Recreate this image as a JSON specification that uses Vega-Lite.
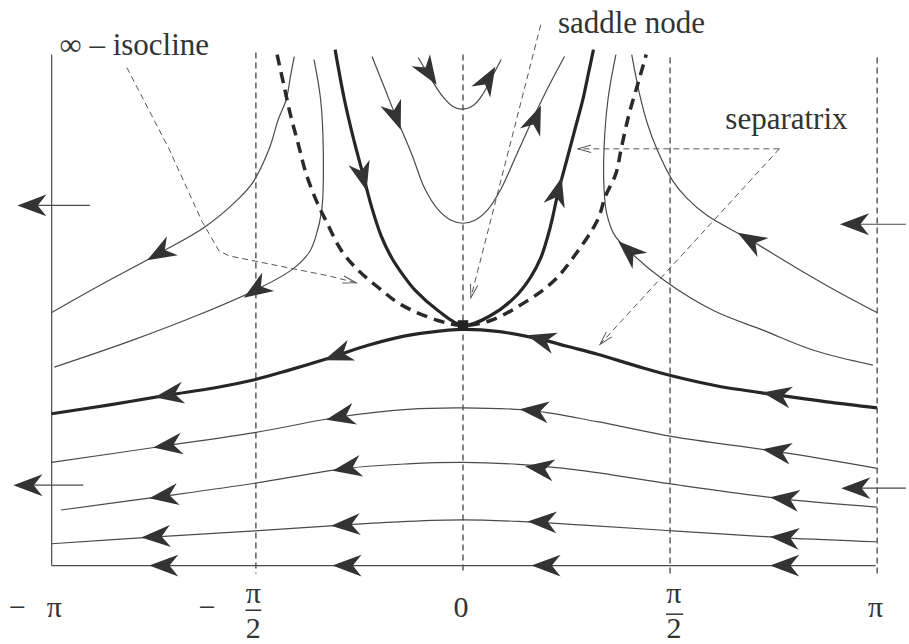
{
  "$schema": "https://vega.github.io/schema/vega-lite/v6.json",
  "width": 909,
  "height": 644,
  "padding": 0,
  "autosize": {"type": "fit", "contains": "padding"},
  "background": "white",
  "config": {"view": {"stroke": null}},
  "datasets": {
    "curves": [
      {"c":"bottom","k":"traj","o":1,"x":-3.12,"y":0},{"c":"bottom","k":"traj","o":2,"x":3.13,"y":0},
      {"c":"A","k":"traj","o":1,"x":-3.12,"y":0.22},{"c":"A","k":"traj","o":2,"x":-2.33,"y":0.29},{"c":"A","k":"traj","o":3,"x":-1.58,"y":0.35},{"c":"A","k":"traj","o":4,"x":-0.89,"y":0.41},{"c":"A","k":"traj","o":5,"x":-0.42,"y":0.445},{"c":"A","k":"traj","o":6,"x":0,"y":0.46},{"c":"A","k":"traj","o":7,"x":0.42,"y":0.445},{"c":"A","k":"traj","o":8,"x":0.89,"y":0.41},{"c":"A","k":"traj","o":9,"x":1.59,"y":0.35},{"c":"A","k":"traj","o":10,"x":2.44,"y":0.28},{"c":"A","k":"traj","o":11,"x":3.14,"y":0.24},
      {"c":"B","k":"traj","o":1,"x":-3.05,"y":0.56},{"c":"B","k":"traj","o":2,"x":-2.27,"y":0.70},{"c":"B","k":"traj","o":3,"x":-1.58,"y":0.83},{"c":"B","k":"traj","o":4,"x":-0.88,"y":0.98},{"c":"B","k":"traj","o":5,"x":-0.42,"y":1.025},{"c":"B","k":"traj","o":6,"x":0,"y":1.04},{"c":"B","k":"traj","o":7,"x":0.42,"y":1.02},{"c":"B","k":"traj","o":8,"x":0.89,"y":0.96},{"c":"B","k":"traj","o":9,"x":1.59,"y":0.82},{"c":"B","k":"traj","o":10,"x":2.44,"y":0.67},{"c":"B","k":"traj","o":11,"x":3.14,"y":0.59},
      {"c":"C","k":"traj","o":1,"x":-3.12,"y":1.04},{"c":"C","k":"traj","o":2,"x":-2.24,"y":1.21},{"c":"C","k":"traj","o":3,"x":-1.58,"y":1.34},{"c":"C","k":"traj","o":4,"x":-0.93,"y":1.50},{"c":"C","k":"traj","o":5,"x":-0.42,"y":1.575},{"c":"C","k":"traj","o":6,"x":0,"y":1.59},{"c":"C","k":"traj","o":7,"x":0.54,"y":1.56},{"c":"C","k":"traj","o":8,"x":1.02,"y":1.45},{"c":"C","k":"traj","o":9,"x":1.59,"y":1.30},{"c":"C","k":"traj","o":10,"x":2.38,"y":1.15},{"c":"C","k":"traj","o":11,"x":3.14,"y":0.98},
      {"c":"U","k":"traj","o":1,"x":-0.69,"y":5.13},{"c":"U","k":"traj","o":2,"x":-0.60,"y":4.83},{"c":"U","k":"traj","o":3,"x":-0.51,"y":4.53},{"c":"U","k":"traj","o":4,"x":-0.39,"y":4.15},{"c":"U","k":"traj","o":5,"x":-0.29,"y":3.80},{"c":"U","k":"traj","o":6,"x":-0.19,"y":3.59},{"c":"U","k":"traj","o":7,"x":-0.09,"y":3.48},{"c":"U","k":"traj","o":8,"x":0,"y":3.45},{"c":"U","k":"traj","o":9,"x":0.09,"y":3.48},{"c":"U","k":"traj","o":10,"x":0.19,"y":3.59},{"c":"U","k":"traj","o":11,"x":0.29,"y":3.80},{"c":"U","k":"traj","o":12,"x":0.41,"y":4.15},{"c":"U","k":"traj","o":13,"x":0.54,"y":4.53},{"c":"U","k":"traj","o":14,"x":0.65,"y":4.83},{"c":"U","k":"traj","o":15,"x":0.77,"y":5.13},
      {"c":"S","k":"traj","o":1,"x":-0.34,"y":5.12},{"c":"S","k":"traj","o":2,"x":-0.25,"y":4.92},{"c":"S","k":"traj","o":3,"x":-0.15,"y":4.72},{"c":"S","k":"traj","o":4,"x":-0.08,"y":4.63},{"c":"S","k":"traj","o":5,"x":-0.01,"y":4.60},{"c":"S","k":"traj","o":6,"x":0.08,"y":4.64},{"c":"S","k":"traj","o":7,"x":0.15,"y":4.75},{"c":"S","k":"traj","o":8,"x":0.21,"y":4.90},{"c":"S","k":"traj","o":9,"x":0.29,"y":5.10},
      {"c":"L1","k":"traj","o":1,"x":-3.12,"y":2.55},{"c":"L1","k":"traj","o":2,"x":-2.76,"y":2.82},{"c":"L1","k":"traj","o":3,"x":-2.30,"y":3.15},{"c":"L1","k":"traj","o":4,"x":-1.95,"y":3.42},{"c":"L1","k":"traj","o":5,"x":-1.70,"y":3.70},{"c":"L1","k":"traj","o":6,"x":-1.59,"y":3.87},{"c":"L1","k":"traj","o":7,"x":-1.47,"y":4.20},{"c":"L1","k":"traj","o":8,"x":-1.40,"y":4.50},{"c":"L1","k":"traj","o":9,"x":-1.34,"y":4.70},{"c":"L1","k":"traj","o":10,"x":-1.31,"y":4.92},{"c":"L1","k":"traj","o":11,"x":-1.28,"y":5.13},
      {"c":"L2","k":"traj","o":1,"x":-3.10,"y":2.00},{"c":"L2","k":"traj","o":2,"x":-2.51,"y":2.27},{"c":"L2","k":"traj","o":3,"x":-2.00,"y":2.53},{"c":"L2","k":"traj","o":4,"x":-1.57,"y":2.78},{"c":"L2","k":"traj","o":5,"x":-1.30,"y":2.98},{"c":"L2","k":"traj","o":6,"x":-1.17,"y":3.15},{"c":"L2","k":"traj","o":7,"x":-1.12,"y":3.30},{"c":"L2","k":"traj","o":8,"x":-1.07,"y":3.60},{"c":"L2","k":"traj","o":9,"x":-1.06,"y":4.20},{"c":"L2","k":"traj","o":10,"x":-1.08,"y":4.70},{"c":"L2","k":"traj","o":11,"x":-1.13,"y":5.10},
      {"c":"R1","k":"traj","o":1,"x":3.14,"y":2.55},{"c":"R1","k":"traj","o":2,"x":2.83,"y":2.77},{"c":"R1","k":"traj","o":3,"x":2.53,"y":3.00},{"c":"R1","k":"traj","o":4,"x":2.18,"y":3.28},{"c":"R1","k":"traj","o":5,"x":1.85,"y":3.53},{"c":"R1","k":"traj","o":6,"x":1.70,"y":3.70},{"c":"R1","k":"traj","o":7,"x":1.59,"y":3.88},{"c":"R1","k":"traj","o":8,"x":1.47,"y":4.20},{"c":"R1","k":"traj","o":9,"x":1.40,"y":4.45},{"c":"R1","k":"traj","o":10,"x":1.34,"y":4.75},{"c":"R1","k":"traj","o":11,"x":1.28,"y":5.15},
      {"c":"R2","k":"traj","o":1,"x":3.11,"y":2.02},{"c":"R2","k":"traj","o":2,"x":2.66,"y":2.17},{"c":"R2","k":"traj","o":3,"x":2.28,"y":2.37},{"c":"R2","k":"traj","o":4,"x":1.90,"y":2.57},{"c":"R2","k":"traj","o":5,"x":1.53,"y":2.87},{"c":"R2","k":"traj","o":6,"x":1.26,"y":3.17},{"c":"R2","k":"traj","o":7,"x":1.15,"y":3.33},{"c":"R2","k":"traj","o":8,"x":1.09,"y":3.55},{"c":"R2","k":"traj","o":9,"x":1.07,"y":3.80},{"c":"R2","k":"traj","o":10,"x":1.07,"y":4.20},{"c":"R2","k":"traj","o":11,"x":1.10,"y":4.70},{"c":"R2","k":"traj","o":12,"x":1.16,"y":5.15},
      {"c":"axis","k":"traj","o":1,"x":-3.12,"y":5.15},{"c":"axis","k":"traj","o":2,"x":-3.12,"y":0},
      {"c":"s1","k":"traj","o":1,"x":-2.83,"y":3.63},{"c":"s1","k":"traj","o":2,"x":-3.30,"y":3.63},
      {"c":"s2","k":"traj","o":1,"x":-2.88,"y":0.81},{"c":"s2","k":"traj","o":2,"x":-3.35,"y":0.81},
      {"c":"s3","k":"traj","o":1,"x":3.36,"y":3.44},{"c":"s3","k":"traj","o":2,"x":2.95,"y":3.44},
      {"c":"s4","k":"traj","o":1,"x":3.36,"y":0.78},{"c":"s4","k":"traj","o":2,"x":2.95,"y":0.78},
      {"c":"sep","k":"sep","o":1,"x":-3.12,"y":1.53},{"c":"sep","k":"sep","o":2,"x":-2.68,"y":1.62},{"c":"sep","k":"sep","o":3,"x":-2.23,"y":1.72},{"c":"sep","k":"sep","o":4,"x":-1.89,"y":1.79},{"c":"sep","k":"sep","o":5,"x":-1.59,"y":1.87},{"c":"sep","k":"sep","o":6,"x":-1.32,"y":1.97},{"c":"sep","k":"sep","o":7,"x":-1.02,"y":2.09},{"c":"sep","k":"sep","o":8,"x":-0.72,"y":2.22},{"c":"sep","k":"sep","o":9,"x":-0.49,"y":2.30},{"c":"sep","k":"sep","o":10,"x":-0.26,"y":2.35},{"c":"sep","k":"sep","o":11,"x":0,"y":2.38},{"c":"sep","k":"sep","o":12,"x":0.26,"y":2.36},{"c":"sep","k":"sep","o":13,"x":0.59,"y":2.28},{"c":"sep","k":"sep","o":14,"x":0.79,"y":2.21},{"c":"sep","k":"sep","o":15,"x":1.02,"y":2.13},{"c":"sep","k":"sep","o":16,"x":1.32,"y":2.01},{"c":"sep","k":"sep","o":17,"x":1.59,"y":1.91},{"c":"sep","k":"sep","o":18,"x":1.93,"y":1.81},{"c":"sep","k":"sep","o":19,"x":2.38,"y":1.72},{"c":"sep","k":"sep","o":20,"x":2.76,"y":1.65},{"c":"sep","k":"sep","o":21,"x":3.14,"y":1.59},
      {"c":"par","k":"sep","o":1,"x":-0.97,"y":5.20},{"c":"par","k":"sep","o":2,"x":-0.90,"y":4.70},{"c":"par","k":"sep","o":3,"x":-0.83,"y":4.30},{"c":"par","k":"sep","o":4,"x":-0.76,"y":3.95},{"c":"par","k":"sep","o":5,"x":-0.69,"y":3.60},{"c":"par","k":"sep","o":6,"x":-0.62,"y":3.32},{"c":"par","k":"sep","o":7,"x":-0.54,"y":3.10},{"c":"par","k":"sep","o":8,"x":-0.45,"y":2.92},{"c":"par","k":"sep","o":9,"x":-0.36,"y":2.77},{"c":"par","k":"sep","o":10,"x":-0.19,"y":2.57},{"c":"par","k":"sep","o":11,"x":0,"y":2.42},{"c":"par","k":"sep","o":12,"x":0.21,"y":2.52},{"c":"par","k":"sep","o":13,"x":0.39,"y":2.70},{"c":"par","k":"sep","o":14,"x":0.51,"y":2.90},{"c":"par","k":"sep","o":15,"x":0.59,"y":3.10},{"c":"par","k":"sep","o":16,"x":0.66,"y":3.40},{"c":"par","k":"sep","o":17,"x":0.72,"y":3.75},{"c":"par","k":"sep","o":18,"x":0.79,"y":4.10},{"c":"par","k":"sep","o":19,"x":0.85,"y":4.40},{"c":"par","k":"sep","o":20,"x":0.91,"y":4.70},{"c":"par","k":"sep","o":21,"x":0.95,"y":4.95},{"c":"par","k":"sep","o":22,"x":0.99,"y":5.20},
      {"c":"iso","k":"iso","o":1,"x":-1.41,"y":5.15},{"c":"iso","k":"iso","o":2,"x":-1.36,"y":4.85},{"c":"iso","k":"iso","o":3,"x":-1.31,"y":4.55},{"c":"iso","k":"iso","o":4,"x":-1.25,"y":4.25},{"c":"iso","k":"iso","o":5,"x":-1.19,"y":3.95},{"c":"iso","k":"iso","o":6,"x":-1.11,"y":3.67},{"c":"iso","k":"iso","o":7,"x":-1.03,"y":3.45},{"c":"iso","k":"iso","o":8,"x":-0.92,"y":3.17},{"c":"iso","k":"iso","o":9,"x":-0.79,"y":2.97},{"c":"iso","k":"iso","o":10,"x":-0.64,"y":2.80},{"c":"iso","k":"iso","o":11,"x":-0.47,"y":2.63},{"c":"iso","k":"iso","o":12,"x":-0.19,"y":2.47},{"c":"iso","k":"iso","o":13,"x":0,"y":2.42},{"c":"iso","k":"iso","o":14,"x":0.21,"y":2.47},{"c":"iso","k":"iso","o":15,"x":0.49,"y":2.67},{"c":"iso","k":"iso","o":16,"x":0.69,"y":2.87},{"c":"iso","k":"iso","o":17,"x":0.85,"y":3.13},{"c":"iso","k":"iso","o":18,"x":1.02,"y":3.48},{"c":"iso","k":"iso","o":19,"x":1.08,"y":3.72},{"c":"iso","k":"iso","o":20,"x":1.16,"y":3.95},{"c":"iso","k":"iso","o":21,"x":1.20,"y":4.20},{"c":"iso","k":"iso","o":22,"x":1.26,"y":4.55},{"c":"iso","k":"iso","o":23,"x":1.33,"y":4.87},{"c":"iso","k":"iso","o":24,"x":1.39,"y":5.15},
      {"c":"n1","k":"note","o":1,"x":-2.55,"y":5.02},{"c":"n1","k":"note","o":2,"x":-2.23,"y":4.20},{"c":"n1","k":"note","o":3,"x":-1.98,"y":3.47},{"c":"n1","k":"note","o":4,"x":-1.85,"y":3.17},{"c":"n1","k":"note","o":5,"x":-1.77,"y":3.12},{"c":"n1","k":"note","o":6,"x":-1.02,"y":2.92},{"c":"n1","k":"note","o":7,"x":-0.81,"y":2.85},
      {"c":"n2","k":"note","o":1,"x":0.59,"y":5.45},{"c":"n2","k":"note","o":2,"x":0.06,"y":2.70},
      {"c":"n3","k":"note","o":1,"x":2.40,"y":4.20},{"c":"n3","k":"note","o":2,"x":0.87,"y":4.20},
      {"c":"n4","k":"note","o":1,"x":2.40,"y":4.20},{"c":"n4","k":"note","o":2,"x":1.04,"y":2.23}
    ],
    "grid": [
      {"x":-1.5708,"y":5.17,"y2":-0.08},{"x":0,"y":5.15,"y2":-0.08},{"x":1.5708,"y":5.12,"y2":-0.08},{"x":3.1416,"y":5.12,"y2":-0.08}
    ],
    "arrows": [
      {"x":-2.27,"y":0,"a":0},{"x":-0.88,"y":0,"a":0},{"x":0.63,"y":0,"a":0},{"x":2.44,"y":0,"a":0},
      {"x":-2.33,"y":0.29,"a":357},{"x":-0.89,"y":0.41,"a":357},{"x":0.60,"y":0.44,"a":2},{"x":2.44,"y":0.28,"a":4},
      {"x":-2.27,"y":0.70,"a":352},{"x":-0.88,"y":0.98,"a":350},{"x":0.58,"y":0.98,"a":8},{"x":2.44,"y":0.67,"a":7},
      {"x":-2.24,"y":1.21,"a":352},{"x":-0.93,"y":1.50,"a":348},{"x":0.54,"y":1.56,"a":6},{"x":2.38,"y":1.15,"a":9},
      {"x":-2.23,"y":1.72,"a":351},{"x":-0.95,"y":2.12,"a":340},{"x":0.59,"y":2.28,"a":16},{"x":2.38,"y":1.72,"a":10},
      {"x":-2.30,"y":3.15,"a":330},{"x":-1.57,"y":2.78,"a":327},
      {"x":-0.76,"y":3.92,"a":255},{"x":0.72,"y":3.77,"a":105},
      {"x":-0.51,"y":4.53,"a":250},{"x":0.55,"y":4.50,"a":112},
      {"x":-0.26,"y":4.97,"a":237},{"x":0.19,"y":4.90,"a":120},
      {"x":2.18,"y":3.28,"a":30},{"x":1.26,"y":3.17,"a":42},
      {"x":-3.27,"y":3.63,"a":0},{"x":-3.30,"y":0.81,"a":0},{"x":2.97,"y":3.44,"a":0},{"x":2.98,"y":0.78,"a":0}
    ],
    "heads": [
      {"x":-0.81,"y":2.85,"a":194},{"x":0.06,"y":2.70,"a":284},{"x":0.87,"y":4.20,"a":0},{"x":1.04,"y":2.23,"a":312}
    ],
    "ticks": [
      {"t":"−","x":-3.38,"y":-0.52},{"t":"π","x":-3.10,"y":-0.52},
      {"t":"−","x":-1.94,"y":-0.52},{"t":"π","x":-1.59,"y":-0.38},{"t":"2","x":-1.59,"y":-0.73},
      {"t":"0","x":-0.015,"y":-0.52},
      {"t":"π","x":1.60,"y":-0.38},{"t":"2","x":1.60,"y":-0.73},
      {"t":"π","x":3.13,"y":-0.52}
    ],
    "bars": [
      {"x":-1.65,"x2":-1.53,"y":-0.45},{"x":1.54,"x2":1.67,"y":-0.49}
    ],
    "labels": [
      {"t":"∞ – isocline","x":-3.06,"y":5.15},{"t":"saddle node","x":0.72,"y":5.37},{"t":"separatrix","x":1.99,"y":4.40}
    ],
    "saddle": [{"x":0,"y":2.42}]
  },
  "encoding": {
    "x": {"field":"x","type":"quantitative","scale":{"domain":[-3.512,3.353],"nice":false,"zero":false},"axis":null},
    "y": {"field":"y","type":"quantitative","scale":{"domain":[-0.74,5.70],"nice":false,"zero":false},"axis":null}
  },
  "layer": [
    {"data":{"name":"grid"},"mark":{"type":"rule","stroke":"#333","strokeWidth":1.2,"strokeDash":[6,4]},"encoding":{"y2":{"field":"y2"}}},
    {"data":{"name":"curves"},"transform":[{"filter":"datum.k==='traj'"}],"mark":{"type":"line","stroke":"#4a4a4a","strokeWidth":1.2,"interpolate":"catmull-rom"},"encoding":{"detail":{"field":"c"},"order":{"field":"o","type":"quantitative"}}},
    {"data":{"name":"curves"},"transform":[{"filter":"datum.k==='note'"}],"mark":{"type":"line","stroke":"#555","strokeWidth":1,"strokeDash":[6,4]},"encoding":{"detail":{"field":"c"},"order":{"field":"o","type":"quantitative"}}},
    {"data":{"name":"curves"},"transform":[{"filter":"datum.k==='iso'"}],"mark":{"type":"line","stroke":"#2a2a2a","strokeWidth":3.5,"strokeDash":[11,7],"interpolate":"catmull-rom"},"encoding":{"detail":{"field":"c"},"order":{"field":"o","type":"quantitative"}}},
    {"data":{"name":"curves"},"transform":[{"filter":"datum.k==='sep'"}],"mark":{"type":"line","stroke":"#262626","strokeWidth":3.2,"interpolate":"catmull-rom"},"encoding":{"detail":{"field":"c"},"order":{"field":"o","type":"quantitative"}}},
    {"data":{"name":"arrows"},"mark":{"type":"point","shape":"M-1,0L1,-0.75L0.4,0L1,0.75Z","filled":true,"fill":"#333","strokeWidth":0,"opacity":1,"size":850},"encoding":{"angle":{"field":"a","type":"quantitative","scale":{"domain":[0,360],"range":[0,360]}}}},
    {"data":{"name":"heads"},"mark":{"type":"point","shape":"M2,-0.55L0,0L2,0.55","filled":false,"stroke":"#555","strokeWidth":1,"opacity":1,"size":180},"encoding":{"angle":{"field":"a","type":"quantitative","scale":{"domain":[0,360],"range":[0,360]}}}},
    {"data":{"name":"saddle"},"mark":{"type":"point","shape":"square","filled":true,"fill":"#222","opacity":1,"size":110}},
    {"data":{"name":"bars"},"mark":{"type":"rule","stroke":"#333","strokeWidth":1.5},"encoding":{"x2":{"field":"x2"}}},
    {"data":{"name":"ticks"},"mark":{"type":"text","font":"Liberation Serif","fontSize":30,"align":"center","baseline":"alphabetic","fill":"#333"},"encoding":{"text":{"field":"t"}}},
    {"data":{"name":"labels"},"mark":{"type":"text","font":"Liberation Serif","fontSize":31,"align":"left","baseline":"alphabetic","fill":"#333"},"encoding":{"text":{"field":"t"}}}
  ]
}
